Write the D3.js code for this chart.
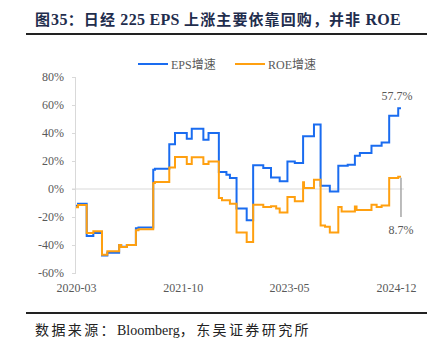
<!DOCTYPE html>
<html><head><meta charset="utf-8">
<script src="https://cdn.jsdelivr.net/npm/d3@7"></script>
<style>body{margin:0;background:#fff}svg{display:block}</style>
</head><body>
<svg id="c" width="443" height="352"></svg>
<script>
const yTicks = [-60, -40, -20, 0, 20, 40, 60, 80];
const xTickLabels = ["2020-03", "2021-10", "2023-05", "2024-12"];
const seriesNames = ["EPS增速", "ROE增速"];

const epsDates = ["2020-03-01","2020-03-12","2020-04-28","2020-06-03","2020-07-20","2020-08-18","2020-10-21","2020-11-01","2020-12-02","2021-01-20","2021-02-03","2021-04-24","2021-05-03","2021-07-20","2021-08-20","2021-10-23","2021-11-19","2022-01-21","2022-02-18","2022-04-15","2022-05-26","2022-06-14","2022-07-20","2022-09-13","2022-10-18","2022-12-12","2023-01-23","2023-03-11","2023-04-22","2023-06-01","2023-07-16","2023-09-13","2023-10-19","2023-12-08","2024-01-23","2024-03-14","2024-04-22","2024-05-19","2024-07-21","2024-09-14","2024-10-25","2024-12-13","2024-12-28"];
const epsValues = [-12,-10.5,-33.5,-31.5,-47.5,-45.5,-40,-41.3,-40,-28,-27.5,13.8,14.5,32,40,35.9,43,35.2,40,12.1,10.2,7.8,-14,-22.4,16.9,15,8.3,5.5,19.7,18.5,37.6,46,2.4,-1.7,16.6,17.4,23.8,25.7,30.9,33.3,52.4,57.7,57.7];

const roeDates = ["2020-03-01","2020-03-12","2020-04-28","2020-06-03","2020-07-20","2020-08-18","2020-10-21","2020-11-01","2020-12-02","2021-01-20","2021-02-03","2021-04-24","2021-05-03","2021-07-20","2021-08-20","2021-10-23","2021-11-19","2022-01-21","2022-02-18","2022-04-15","2022-05-02","2022-06-14","2022-07-20","2022-09-13","2022-10-18","2022-12-12","2023-01-23","2023-02-20","2023-03-11","2023-04-22","2023-06-01","2023-07-16","2023-07-21","2023-09-13","2023-10-19","2023-11-12","2023-12-08","2024-01-23","2024-02-10","2024-04-22","2024-05-01","2024-07-21","2024-08-18","2024-09-14","2024-10-25","2024-12-13","2024-12-28"];
const roeValues = [-13,-11.5,-31.5,-30.2,-47,-44.5,-40,-41.5,-40,-29.5,-28.7,4.3,5,15.4,22.8,17.8,22.6,17.8,19.7,-6.5,-8.1,-10.5,-31,-37.9,-11.2,-12.9,-12.4,-14,-16.7,-5.7,-8.8,4.8,0.7,6.6,-26,-27,-31,-12.9,-16,-12.5,-15,-11.2,-12.9,-11.7,7.8,8.7,8.7];

const colors = ["#1a6cf0", "#ffa010"];
const parse = d3.timeParse("%Y-%m-%d");
const parseM = d3.timeParse("%Y-%m");

const svg = d3.select("#c");
const x = d3.scaleTime().domain([parseM("2020-03"), parseM("2024-12")]).range([76, 396]);
const y = d3.scaleLinear().domain([-60, 80]).range([273, 77]);

// title
const title = svg.append("text").attr("x", 35).attr("y", 25)
  .attr("fill", "#1f2d4d").attr("font-weight", "bold")
  .attr("font-family", "'Liberation Serif','Noto Sans CJK SC',serif").attr("font-size", 15);
[["图","cjk"],["35","lat"],["：","cjk"],["日经","cjk"],[" 225 EPS ","lat"],["上涨主要依靠回购，并非","cjk"],[" ROE","lat"]].forEach(([t,k])=>{
  title.append("tspan").text(t)
    .attr("font-size", k==="cjk"?15:16)
    .attr("letter-spacing", k==="cjk"?1.1:0.3);
});
svg.append("line").attr("x1",26).attr("x2",427).attr("y1",34).attr("y2",34).attr("stroke","#222").attr("stroke-width",2);

// y axis
const yAxis = svg.append("g").attr("transform","translate(76,0)")
  .call(d3.axisLeft(y).tickValues(yTicks).tickSize(4).tickPadding(8).tickFormat(d=>d+"%"));
yAxis.select(".domain").attr("stroke","#d9d9d9").attr("d","M-0.5,"+y(80)+"V"+y(-60));
yAxis.selectAll(".tick line").attr("stroke","#d9d9d9");
yAxis.selectAll("text").attr("fill","#595959").attr("font-size",12).attr("font-family","'Liberation Serif',serif");

// zero line
svg.append("line").attr("x1",72).attr("x2",404).attr("y1",y(0)).attr("y2",y(0)).attr("stroke","#d9d9d9").attr("stroke-width",1);

// x labels
const xAxis = svg.append("g").attr("transform","translate(0,280)")
  .call(d3.axisBottom(x).tickValues(xTickLabels.map(parseM)).tickSize(0).tickPadding(3).tickFormat(d3.timeFormat("%Y-%m")));
xAxis.select(".domain").remove();
xAxis.selectAll("text").attr("fill","#595959").attr("font-size",12).attr("font-family","'Liberation Serif',serif");

// lines
const line = d3.line().curve(d3.curveStepAfter).x(d=>x(d.date)).y(d=>y(d.value));
const eps = epsDates.map((d,i)=>({date:parse(d), value:epsValues[i]}));
const roe = roeDates.map((d,i)=>({date:parse(d), value:roeValues[i]}));
[eps, roe].forEach((s,i)=>{
  svg.append("path").datum(s).attr("d", line).attr("fill","none")
    .attr("stroke", colors[i]).attr("stroke-width", 2).attr("stroke-linejoin","miter");
});

// annotations
const lastE = eps[eps.length-1], lastR = roe[roe.length-1];
svg.append("text").attr("x", x(lastE.date)-4).attr("y", 100).attr("text-anchor","middle")
  .attr("fill","#595959").attr("font-size",12).attr("font-family","'Liberation Serif',serif")
  .text(d3.format(".1f")(lastE.value)+"%");
svg.append("line").attr("x1", x(lastR.date)).attr("x2", x(lastR.date))
  .attr("y1", y(lastR.value)+1).attr("y2", 217).attr("stroke","#a6a6a6").attr("stroke-width",1.5);
svg.append("text").attr("x", x(lastR.date)).attr("y", 234).attr("text-anchor","middle")
  .attr("fill","#595959").attr("font-size",12).attr("font-family","'Liberation Serif',serif")
  .text(d3.format(".1f")(lastR.value)+"%");

// legend
const legX = [138, 235];
seriesNames.forEach((n,i)=>{
  svg.append("line").attr("x1",legX[i]).attr("x2",legX[i]+30).attr("y1",64).attr("y2",64)
    .attr("stroke",colors[i]).attr("stroke-width",2);
  svg.append("text").attr("x",legX[i]+33).attr("y",68.5).attr("fill","#595959")
    .attr("font-size",12).attr("font-family","'Liberation Serif','Noto Sans CJK SC',serif").text(n);
});

// source
svg.append("line").attr("x1",26).attr("x2",427).attr("y1",313).attr("y2",313).attr("stroke","#222").attr("stroke-width",2);
const src = svg.append("text").attr("x",35).attr("y",335).attr("fill","#222")
  .attr("font-family","'Liberation Serif','Noto Sans CJK SC',serif");
[["数据来源：","cjk"],["Bloomberg","lat"],["，东吴证券研究所","cjk"]].forEach(([t,k])=>{
  src.append("tspan").text(t).attr("font-size", 14).attr("letter-spacing", k==="cjk"?2.4:0);
});
</script>
</body></html>
